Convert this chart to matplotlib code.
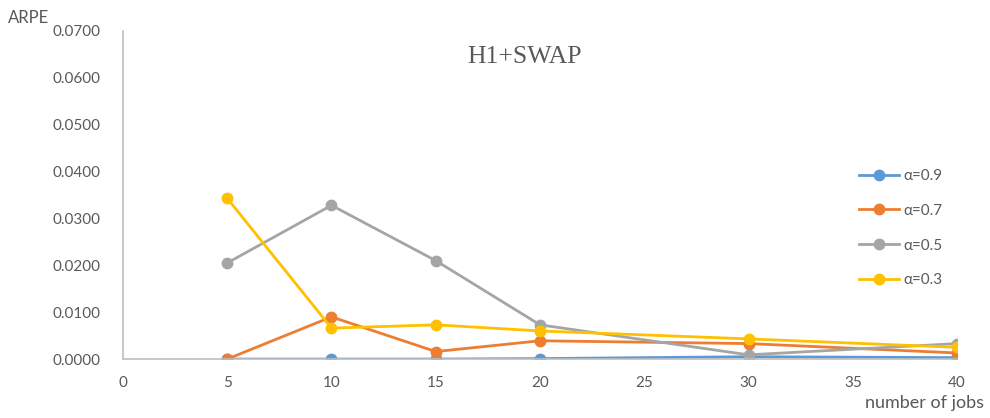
import matplotlib
matplotlib.use("Agg")
import matplotlib.pyplot as plt
from matplotlib.ticker import FormatStrFormatter, MultipleLocator

plt.rcParams['font.family'] = ['Lato', 'DejaVu Sans']

jobs = [5, 10, 15, 20, 30, 40]
labels = ["α=0.9", "α=0.7", "α=0.5", "α=0.3"]
a09 = [0.0000, 0.0000, 0.0000, 0.0001, 0.0005, 0.0003]
a07 = [0.0000, 0.0090, 0.0016, 0.0039, 0.0033, 0.0013]
a05 = [0.0205, 0.0328, 0.0210, 0.0073, 0.0009, 0.0033]
a03 = [0.0343, 0.0066, 0.0073, 0.0060, 0.0043, 0.0025]
series = [a09, a07, a05, a03]
colors = ["#5B9BD5", "#ED7D31", "#A5A5A5", "#FFC000"]

fig = plt.figure(figsize=(9.9, 4.18), dpi=100)
ax = fig.add_axes([0.1242, 0.141, 0.8425, 0.785])

for vals, lab, c in zip(series, labels, colors):
    ax.plot(jobs, vals, color=c, lw=2.0, marker='o', markersize=7.5, label=lab)

ax.set_xlim(0, 40)
ax.set_ylim(0, 0.07)
ax.xaxis.set_major_locator(MultipleLocator(5))
ax.yaxis.set_major_locator(MultipleLocator(0.01))
ax.yaxis.set_major_formatter(FormatStrFormatter('%.4f'))
tc = '#595959'
ax.tick_params(axis='both', length=0, labelsize=11, colors=tc)
ax.tick_params(axis='y', pad=16)
ax.tick_params(axis='x', pad=12)
for s in ['top', 'right']:
    ax.spines[s].set_visible(False)
for s in ['left', 'bottom']:
    ax.spines[s].set_color('#BFBFBF')
    ax.spines[s].set_linewidth(1.2)

fig.text(0.008, 0.957, 'ARPE', fontsize=12, color=tc, ha='left', va='center')
fig.text(0.994, 0.036, 'number of jobs', fontsize=13, color=tc, ha='right', va='center')
ax.text(0.482, 0.921, 'H1+SWAP', transform=ax.transAxes, fontsize=18.5, color=tc,
        ha='center', va='center', family='Liberation Serif')

leg = ax.legend(loc='upper left', bbox_to_anchor=(0.875, 0.598), frameon=False,
                fontsize=11, labelspacing=1.36, handlelength=2.6, handletextpad=0.3,
                borderaxespad=0)
for t in leg.get_texts():
    t.set_color(tc)

fig.savefig('out.png', dpi=100)
